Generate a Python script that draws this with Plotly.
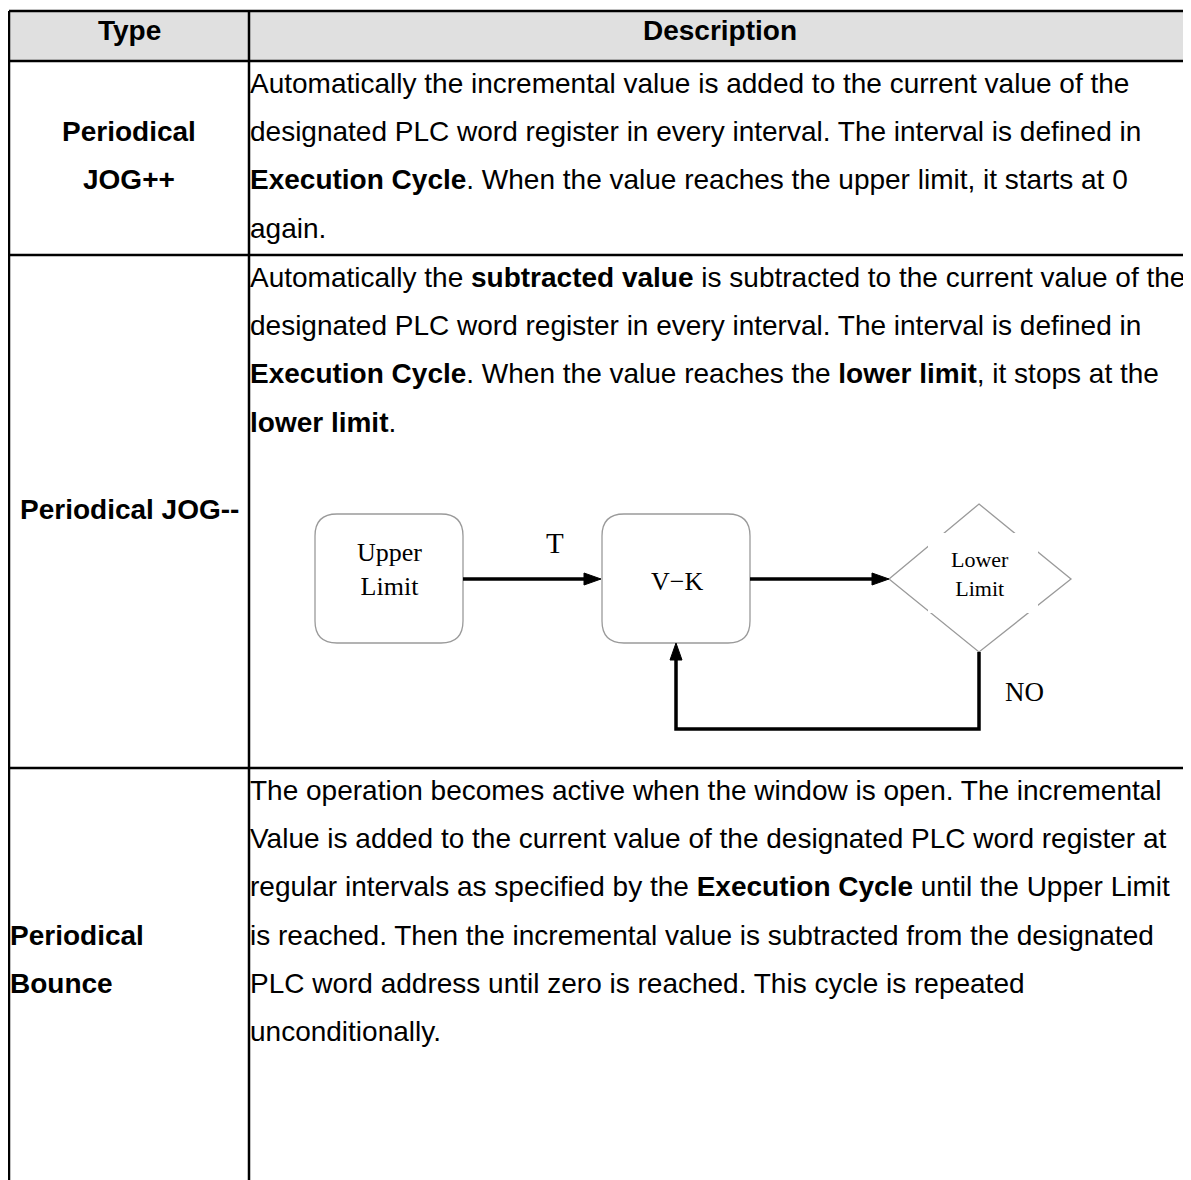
import plotly.graph_objects as go

W, H = 1191, 1180
PAGE_MARGIN = 8  # the browser's default body margin

# ---------------- table content ----------------
header = ["Type", "Description"]
type_labels = [
    ["Periodical", "JOG++"],
    ["Periodical JOG--"],
    ["Periodical", "Bounce"],
]
desc_row1 = [
    "Automatically the incremental value is added to the current value of the",
    "designated PLC word register in every interval. The interval is defined in",
    "<b>Execution Cycle</b>. When the value reaches the upper limit, it starts at 0",
    "again.",
]
desc_row2 = [
    "Automatically the <b>subtracted value</b> is subtracted to the current value of the",
    "designated PLC word register in every interval. The interval is defined in",
    "<b>Execution Cycle</b>. When the value reaches the <b>lower limit</b>, it stops at the",
    "<b>lower limit</b>.",
]
desc_row3 = [
    "The operation becomes active when the window is open. The incremental",
    "Value is added to the current value of the designated PLC word register at",
    "regular intervals as specified by the <b>Execution Cycle</b> until the Upper Limit",
    "is reached. Then the incremental value is subtracted from the designated",
    "PLC word address until zero is reached. This cycle is repeated",
    "unconditionally.",
]
flow_nodes = ["Upper<br>Limit", "V\u2212K", "Lower<br>Limit"]
flow_edges = ["T", "NO"]

# ---------------- layout geometry (page pixels) ----------------
X_LEFT, X_DIV, X_RIGHT = 9, 249, 1191
Y_TOP, Y_HEAD, Y_R1, Y_R2 = 11, 61, 255, 768
LINE_H = 48.2
FIRST = 22.5          # offset of first text line centre below a row's top border
FS = 28
SANS = "Liberation Sans, Arial, sans-serif"
SERIF = "Liberation Serif, Times New Roman, serif"

shapes = []
annos = []

# header background
shapes.append(dict(type="rect", x0=X_LEFT, x1=X_RIGHT + 5, y0=Y_TOP, y1=Y_HEAD,
                   fillcolor="#e0e0e0", line=dict(width=0), layer="below"))

def hline(y, x0=X_LEFT, x1=X_RIGHT + 5):
    shapes.append(dict(type="line", x0=x0, x1=x1, y0=y, y1=y,
                       line=dict(color="black", width=2.5)))

def vline(x, y0=Y_TOP, y1=H + 5):
    shapes.append(dict(type="line", x0=x, x1=x, y0=y0, y1=y1,
                       line=dict(color="black", width=2.5)))

for y in (Y_TOP, Y_HEAD, Y_R1, Y_R2):
    hline(y)
vline(X_LEFT)
vline(X_DIV)

def text(x, y, s, size=FS, anchor="left", font=SANS):
    annos.append(dict(x=x, y=y, xref="x", yref="y", text=s, showarrow=False,
                      xanchor=anchor, yanchor="middle", borderpad=0, borderwidth=0,
                      font=dict(family=font, size=size, color="black")))

def line_y(row_top, k):
    return row_top + FIRST + k * LINE_H

# header text
text((X_LEFT + X_DIV) / 2, 30, "<b>%s</b>" % header[0], anchor="center")
text((X_DIV + X_RIGHT) / 2, 30, "<b>%s</b>" % header[1], anchor="center")

# description rows
for i, s in enumerate(desc_row1):
    text(X_DIV + 1, line_y(Y_HEAD, i), s)
for i, s in enumerate(desc_row2):
    text(X_DIV + 1, line_y(Y_R1, i), s)
for i, s in enumerate(desc_row3):
    text(X_DIV + 1, line_y(Y_R2, i), s)

# type labels
for i, s in enumerate(type_labels[0]):
    text((X_LEFT + X_DIV) / 2, line_y(Y_HEAD, i + 1), "<b>%s</b>" % s, anchor="center")
text((X_LEFT + X_DIV) / 2, 509, "<b>%s</b>" % type_labels[1][0], anchor="center")
for i, s in enumerate(type_labels[2]):
    text(X_LEFT + 1, line_y(Y_R2, i + 3), "<b>%s</b>" % s)

# ---------------- flowchart ----------------
def rounded(x0, y0, x1, y1, r):
    p = (f"M {x0+r},{y0} L {x1-r},{y0} Q {x1},{y0} {x1},{y0+r} "
         f"L {x1},{y1-r} Q {x1},{y1} {x1-r},{y1} L {x0+r},{y1} "
         f"Q {x0},{y1} {x0},{y1-r} L {x0},{y0+r} Q {x0},{y0} {x0+r},{y0} Z")
    shapes.append(dict(type="path", path=p, line=dict(color="#9a9a9a", width=1.3)))

rounded(315, 514, 463, 643, 22)
rounded(602, 514, 750, 643, 22)
# diamond
shapes.append(dict(type="path",
                   path="M 979,504 L 1071,579 L 979,652 L 889,579 Z",
                   line=dict(color="#9a9a9a", width=1.3)))
# white area behind the diamond's label
shapes.append(dict(type="rect", x0=928, x1=1038, y0=533, y1=613,
                   fillcolor="white", line=dict(width=0)))

def poly(pts, width=3.5):
    p = "M " + " L ".join(f"{x},{y}" for x, y in pts)
    shapes.append(dict(type="path", path=p, line=dict(color="black", width=width)))

def tri(pts):
    p = "M " + " L ".join(f"{x},{y}" for x, y in pts) + " Z"
    shapes.append(dict(type="path", path=p, fillcolor="black",
                       line=dict(color="black", width=1)))

poly([(463, 579), (588, 579)])
tri([(601, 579), (584, 573), (584, 585)])
poly([(750, 579), (876, 579)])
tri([(889, 579), (872, 573), (872, 585)])
poly([(979, 652), (979, 729), (676, 729), (676, 656)])
tri([(676, 643), (670, 660), (682, 660)])

text(389, 569, flow_nodes[0], size=26, anchor="center", font=SERIF)
text(677, 581, flow_nodes[1], size=26, anchor="center", font=SERIF)
text(980, 574, flow_nodes[2], size=22, anchor="center", font=SERIF)
text(555, 543, flow_edges[0], size=29, anchor="center", font=SERIF)
text(1024, 692, flow_edges[1], size=27, anchor="center", font=SERIF)

fig = go.Figure()
fig.update_layout(
    width=W - PAGE_MARGIN, height=H - PAGE_MARGIN,
    margin=dict(l=0, r=0, t=0, b=0, pad=0),
    paper_bgcolor="white", plot_bgcolor="white",
    xaxis=dict(range=[PAGE_MARGIN, W], visible=False, fixedrange=True),
    yaxis=dict(range=[H, PAGE_MARGIN], visible=False, fixedrange=True),
    shapes=shapes, annotations=annos, showlegend=False,
)
fig.write_html("out.html")
